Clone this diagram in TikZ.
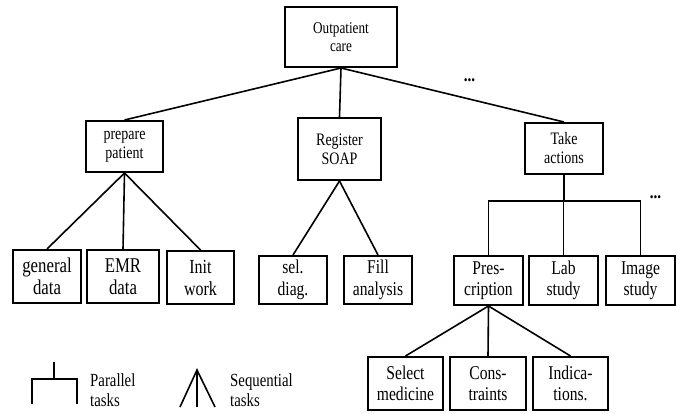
\documentclass[tikz,border=0pt]{standalone}
\usepackage{fontspec}
\setmainfont[FakeStretch=0.8]{Liberation Serif}
\usepackage{tikz}
\usetikzlibrary{positioning}
\tikzstyle{task} = [rectangle, draw=black, line width=2pt, align=center, inner sep=0pt]
\tikzstyle{top} = [task, font=\fontsize{16.5}{18}\selectfont]
\tikzstyle{mid} = [task, font=\fontsize{17.5}{19}\selectfont]
\tikzstyle{leaf} = [task, font=\fontsize{19.5}{21.5}\selectfont]
\tikzstyle{bigleaf} = [task, font=\fontsize{21}{22}\selectfont]
\tikzstyle{link} = [line width=1.6pt]
\tikzstyle{more} = [font=\bfseries\fontsize{19}{19}\selectfont, inner sep=0pt]
\tikzstyle{legend} = [align=left, anchor=west, inner sep=0pt, font=\fontsize{18.5}{20.5}\selectfont]

\begin{document}
\begin{tikzpicture}[x=1pt, y=-1pt]
\useasboundingbox (0,0) rectangle (682,414);

\node [top, minimum width=112, minimum height=60] (care) at (341,37) {Outpatient\\care};

\node [mid, minimum width=77, minimum height=51] (prep) at (124.5,146.5) {prepare\\patient};
\node [mid, minimum width=83, minimum height=62] (soap) at (339.5,149) {Register\\SOAP};
\node [mid, minimum width=78, minimum height=51] (act) at (564,148.5) {Take\\actions};

\node [bigleaf, minimum width=68, minimum height=53] (gen) at (47,276.5) {general\\data};
\node [bigleaf, minimum width=72, minimum height=53] (emr) at (123,276.5) {EMR\\data};
\node [bigleaf, minimum width=67, minimum height=53, font=\fontsize{20}{22}\selectfont] (init) at (200.5,277.5) {Init\\work};

\node [leaf, minimum width=68, minimum height=48] (diag) at (293,280) {sel.\\diag.};
\node [leaf, minimum width=68, minimum height=48] (fill) at (378,280) {Fill\\analysis};

\node [leaf, minimum width=69, minimum height=49] (presc) at (488.5,280.5) {Pres-\\cription};
\node [leaf, minimum width=69, minimum height=49] (lab) at (563.5,280.5) {Lab\\study};
\node [leaf, minimum width=69, minimum height=49] (img) at (640.5,280.5) {Image\\study};

\node [leaf, minimum width=75, minimum height=53] (med) at (405.5,383.5) {Select\\medicine};
\node [leaf, minimum width=76, minimum height=53] (cons) at (488,383.5) {Cons-\\traints};
\node [leaf, minimum width=75, minimum height=53] (ind) at (570.5,383.5) {Indica-\\tions.};

\node [more] (more1) at (469.5,80) {...};
\node [more] (more2) at (655.5,197) {...};

% sequential links
\draw [link] (care.south) -- (prep.north);
\draw [link] (care.south) -- (soap.north);
\draw [link] (care.south) -- (act.north);
\draw [link] (prep.south) -- (gen.north);
\draw [link] (prep.south) -- (emr.north);
\draw [link] (prep.south) -- (init.north);
\draw [link] (soap.south) -- (diag.north);
\draw [link] (soap.south) -- (fill.north);
\draw [link] (presc.south) -- (med.north);
\draw [link] (presc.south) -- (cons.north);
\draw [link] (presc.south) -- (ind.north);

% parallel links
\coordinate (barL) at (presc.north |- 0,201);
\coordinate (barR) at (img.north |- 0,201);
\draw [link] (act.south) -- (act.south |- barL);
\draw [link] (presc.north) -- (barL) -- (barR) -- (img.north);
\draw [link] (lab.north) -- (lab.north |- barL);

% legend
\coordinate (parTop) at (54,362);
\coordinate (parMid) at (54,379);
\coordinate (parL) at (32,404);
\coordinate (parR) at (77,404);
\draw [link] (parTop) -- (parMid);
\draw [link] (parL) |- (parMid) -| (parR);
\node [legend] (parText) at (90,390) {Parallel\\tasks};

\coordinate (seqTop) at (197,370);
\coordinate (seqL) at (180,407);
\coordinate (seqM) at (197,407);
\coordinate (seqR) at (215,407);
\draw [link] (seqL) -- (seqTop) -- (seqR);
\draw [link] (seqTop) -- (seqM);
\node [legend] (seqText) at (230,390) {Sequential\\tasks};
\end{tikzpicture}
\end{document}
